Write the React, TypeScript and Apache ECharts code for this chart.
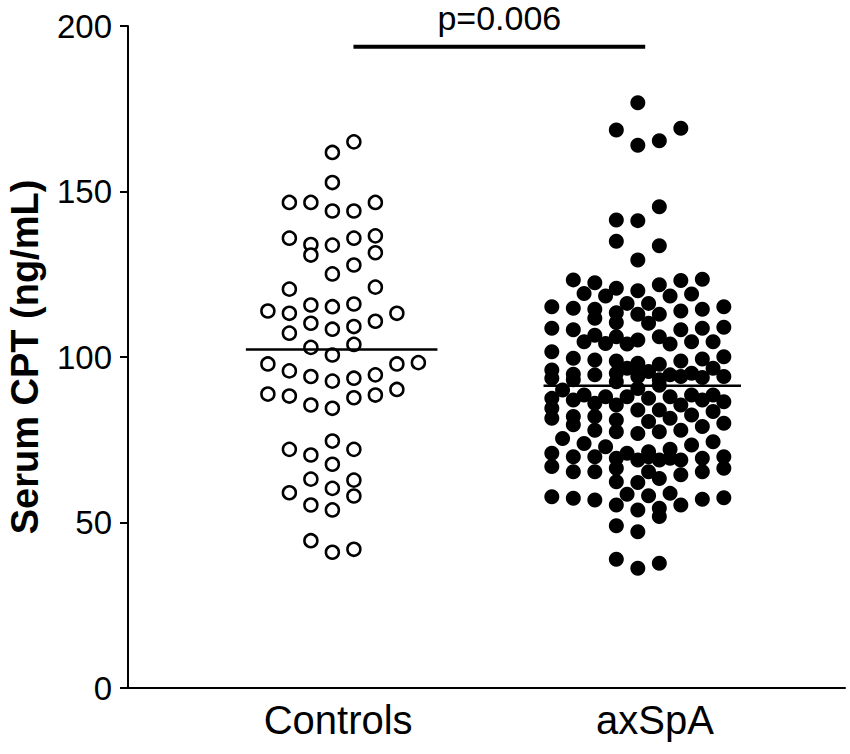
import React, { useEffect, useRef } from "react";
import * as echarts from "echarts";

// ---------------- data ----------------
const categories = ["Controls", "axSpA"];
const yTicks = [0, 50, 100, 150, 200];
const yAxisTitle = "Serum CPT (ng/mL)";
const controlsMean = 102.3;
const axspaMean = 91.3;
const pValueText = "p=0.006";
const pBracketValue = 193.7;

// [column slot (half-column steps from the group centre), value]
const controlsPoints: [number, number][] = [
  [1, 165.0], [-1, 161.8], [-1, 152.7], [-5, 146.7], [-3, 146.7], [-1, 144.1], [1, 144.1], [3, 146.7],
  [-5, 135.9], [-3, 134.0], [-3, 130.8], [-1, 133.8], [1, 135.9], [3, 136.6], [3, 131.5], [1, 127.8], [-1, 125.1],
  [-5, 120.5], [3, 121.1], [-7, 113.9], [-5, 113.2], [-3, 115.7], [-1, 115.2], [1, 116.0], [5, 113.2],
  [-5, 107.2], [-3, 110.2], [-1, 108.4], [1, 109.2], [3, 110.8],
  [-3, 102.9], [1, 103.8], [-1, 100.6],
  [-7, 97.9], [-5, 95.8], [-3, 94.1], [-1, 92.7], [1, 93.6], [3, 94.6], [5, 97.9], [7, 98.3],
  [-7, 88.8], [-5, 88.2], [-3, 85.5], [-1, 84.5], [1, 87.7], [3, 88.5], [5, 90.2],
  [-1, 74.6], [-5, 72.1], [-3, 70.4], [1, 72.1], [-1, 67.6], [-3, 63.1], [1, 62.8], [-1, 60.3],
  [-5, 59.0], [1, 58.0], [-3, 55.3], [-1, 53.8], [-3, 44.5], [-1, 41.0], [1, 41.9],
];

const axspaPoints: [number, number][] = [
  [0, 176.8], [-2, 168.6], [0, 164.0], [2, 165.3], [4, 169.1],
  [2, 145.4], [-2, 141.4], [0, 141.2], [-2, 135.0], [2, 133.6], [0, 129.3],
  [-6, 123.3], [-4, 122.4], [-2, 120.8], [2, 121.8], [4, 123.1], [6, 123.5],
  [-5, 119.2], [-3, 118.4], [0, 120.0], [3, 118.4], [5, 119.0],
  [-8, 115.2], [-6, 114.7], [-4, 114.4], [-1, 116.2], [1, 116.2], [4, 113.9], [6, 114.4], [8, 115.2],
  [-4, 111.7], [-2, 113.4], [0, 112.9], [2, 112.9], [-2, 110.4], [1, 110.2],
  [-8, 108.7], [-6, 108.2], [4, 108.2], [6, 108.7], [8, 109.0], [-4, 106.6], [-2, 106.1], [2, 106.1],
  [-5, 104.6], [0, 105.1], [5, 104.6], [7, 104.6], [-3, 104.1], [-1, 103.9], [3, 103.9],
  [-8, 101.6], [-6, 99.6], [-4, 99.1], [-2, 98.8], [0, 98.1], [2, 97.8], [4, 98.8], [6, 99.4], [8, 100.1],
  [-1, 96.6], [-8, 96.1], [-8, 93.6], [-6, 94.8], [-6, 93.1], [-4, 94.6], [-2, 95.1], [-2, 92.5],
  [0, 94.1], [1, 95.6], [2, 93.1], [3, 94.6], [4, 94.1], [5, 95.1], [6, 93.8], [7, 96.6], [8, 94.1],
  [-7, 90.0], [-5, 88.5], [-3, 88.0], [-1, 88.0], [0, 90.5], [1, 87.5], [2, 91.5], [3, 88.0],
  [5, 88.5], [6, 87.0], [7, 88.5], [8, 86.5],
  [-8, 87.5], [-8, 84.5], [-8, 81.5], [-6, 87.0], [-6, 82.0], [-6, 79.5],
  [-4, 86.0], [-4, 82.0], [-4, 77.9], [-2, 85.5], [-2, 81.0], [-2, 77.4],
  [0, 84.0], [0, 76.9], [1, 80.5], [2, 84.0], [2, 77.4], [3, 81.5], [4, 85.5], [4, 77.9],
  [5, 82.5], [6, 79.0], [7, 83.5], [8, 80.0],
  [-7, 75.4], [-5, 73.9], [-3, 72.9], [-1, 70.9], [1, 71.4], [3, 72.1], [5, 73.4], [7, 74.4],
  [-8, 70.9], [-8, 66.9], [-6, 69.9], [-6, 65.3], [-4, 69.9], [-4, 65.3], [-2, 69.4], [-2, 66.4],
  [0, 68.9], [1, 69.9], [2, 68.9], [3, 69.4], [4, 68.9], [6, 69.4], [8, 69.9], [8, 66.4], [1, 65.3], [6, 65.3],
  [-2, 62.3], [0, 62.1], [2, 63.3], [4, 64.4],
  [-8, 57.8], [-6, 57.3], [-4, 56.8], [-1, 58.5], [1, 58.1], [3, 58.8], [6, 57.0], [8, 57.5],
  [-2, 55.3], [0, 53.8], [2, 54.3], [2, 51.8], [4, 55.3], [-2, 49.0], [0, 47.2],
  [-2, 38.9], [0, 36.2], [2, 37.7],
];

// ---------------- layout constants ----------------
const GROUP_X = [1, 2];
const LABEL_X = [0.983, 2.058];
const SLOT = 0.03648;
const MEAN_EXTENT: [number, number][] = [[-0.33, 0.32], [-0.32, 0.35]];
const BRACKET_X: [number, number] = [1.035, 2.025];
const FONT = "'Liberation Sans', Arial, Helvetica, sans-serif";

export default function App() {
  const ref = useRef<HTMLDivElement>(null);

  useEffect(() => {
    if (!ref.current) return;
    const chart = echarts.init(ref.current, null, { renderer: "svg" });
    const place = (pts: [number, number][], g: number) =>
      pts.map(([k, v]) => [GROUP_X[g] + k * SLOT, v]);
    const means = [controlsMean, axspaMean];
    const meanLine = (g: number) => ({
      type: "line",
      data: [
        [GROUP_X[g] + MEAN_EXTENT[g][0], means[g]],
        [GROUP_X[g] + MEAN_EXTENT[g][1], means[g]],
      ],
      symbol: "none",
      lineStyle: { color: "#000", width: 2.5 },
      z: 5,
      silent: true,
    });

    chart.setOption({
      animation: false,
      grid: { left: 128, right: 5, top: 26, bottom: 66, containLabel: false, outerBoundsMode: "none" },
      xAxis: {
        type: "value",
        min: 0.27,
        max: 2.703,
        axisLine: { show: true, onZero: false, lineStyle: { color: "#000", width: 2 } },
        axisTick: { show: false },
        splitLine: { show: false },
        axisLabel: {
          customValues: LABEL_X,
          formatter: (v: number) => {
            const i = LABEL_X.findIndex((p) => Math.abs(p - v) < 1e-6);
            return i >= 0 ? categories[i] : "";
          },
          fontSize: 40,
          color: "#000",
          fontFamily: FONT,
          margin: 12,
        },
      },
      yAxis: {
        type: "value",
        min: yTicks[0],
        max: yTicks[yTicks.length - 1],
        interval: yTicks[1] - yTicks[0],
        name: yAxisTitle,
        nameLocation: "middle",
        nameRotate: 90,
        nameGap: 84,
        nameTextStyle: { fontSize: 38, fontWeight: "bold", color: "#000", fontFamily: FONT },
        axisLine: { show: true, onZero: false, lineStyle: { color: "#000", width: 2 } },
        axisTick: { show: true, length: 8, lineStyle: { color: "#000", width: 2 } },
        splitLine: { show: false },
        axisLabel: { fontSize: 33, color: "#000", fontFamily: FONT, margin: 16 },
      },
      series: [
        {
          type: "scatter",
          name: categories[0],
          data: place(controlsPoints, 0),
          symbol: "circle",
          symbolSize: 13,
          itemStyle: { color: "#fff", borderColor: "#000", borderWidth: 2.5, opacity: 1 },
          z: 3,
        },
        {
          type: "scatter",
          name: categories[1],
          data: place(axspaPoints, 1),
          symbol: "circle",
          symbolSize: 15,
          itemStyle: { color: "#000", opacity: 1 },
          z: 3,
        },
        meanLine(0),
        meanLine(1),
        {
          type: "line",
          data: [
            [BRACKET_X[0], pBracketValue],
            [BRACKET_X[1], pBracketValue],
          ],
          symbol: "none",
          lineStyle: { color: "#000", width: 4 },
          silent: true,
          markPoint: {
            symbol: "circle",
            symbolSize: 0,
            silent: true,
            itemStyle: { color: "#000" },
            label: {
              show: true,
              position: "top",
              distance: 12,
              formatter: pValueText,
              fontSize: 34,
              color: "#000",
              opacity: 1,
              fontFamily: FONT,
            },
            data: [{ coord: [(BRACKET_X[0] + BRACKET_X[1]) / 2, pBracketValue] }],
          },
        },
      ],
    });
    return () => chart.dispose();
  }, []);

  return (
    <div
      ref={ref}
      style={{ position: "absolute", left: 0, top: 0, width: 850, height: 754, background: "#fff" }}
    />
  );
}
